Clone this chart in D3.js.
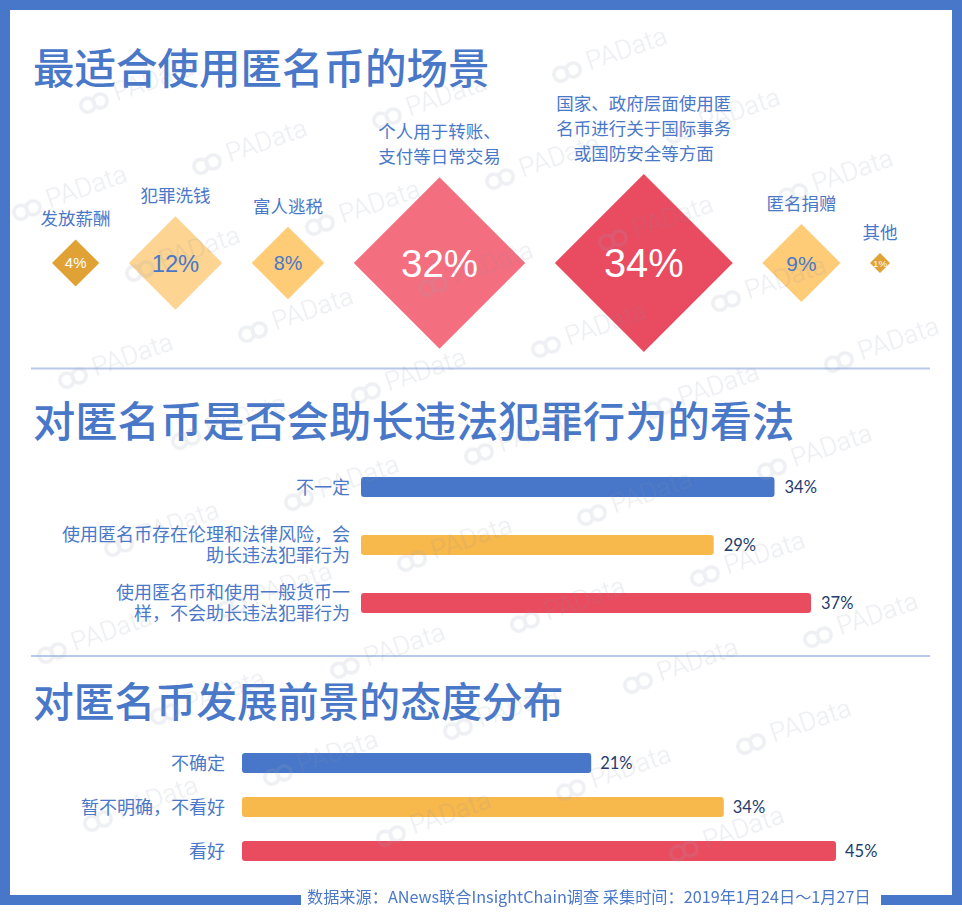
<!DOCTYPE html>
<html>
<head>
<meta charset="utf-8">
<script src="https://cdn.jsdelivr.net/npm/d3@7"></script>
<style>
  html, body { margin: 0; padding: 0; background: #ffffff; }
  svg { display: block; }
</style>
</head>
<body>
<div id="chart"></div>
<script>
// ---------------- DATA ----------------
const titles = ["最适合使用匿名币的场景", "对匿名币是否会助长违法犯罪行为的看法", "对匿名币发展前景的态度分布"];

const scenarioLabels = [
  ["发放薪酬"],
  ["犯罪洗钱"],
  ["富人逃税"],
  ["个人用于转账、", "支付等日常交易"],
  ["国家、政府层面使用匿", "名币进行关于国际事务", "或国防安全等方面"],
  ["匿名捐赠"],
  ["其他"]
];
const scenarioValues = [4, 12, 8, 32, 34, 9, 1];

const viewLabels = [
  ["不一定"],
  ["使用匿名币存在伦理和法律风险，会", "助长违法犯罪行为"],
  ["使用匿名币和使用一般货币一", "样，不会助长违法犯罪行为"]
];
const viewValues = [34, 29, 37];

const outlookLabels = ["不确定", "暂不明确，不看好", "看好"];
const outlookValues = [21, 34, 45];

const footerText = "数据来源：ANews联合InsightChain调查  采集时间：2019年1月24日～1月27日";
const watermarkText = "PAData";

// ---------------- STYLE ----------------
const BLUE = "#4876c9";
const TITLE_BLUE = "#4a78c9";
const NAVY = "#243b6d";
const SEP = "#b8c9ea";
const diamondFill = ["#e0a135", "#fdd491", "#fecb77", "#f36e7f", "#e94b61", "#fecb77", "#e0a135"];
const diamondText = ["#ffffff", TITLE_BLUE, TITLE_BLUE, "#ffffff", "#ffffff", TITLE_BLUE, "#ffffff"];
const barColors = ["#4877c9", "#f7b84c", "#ea4c5f"];
const CJK = "'Noto Sans CJK SC', 'Noto Sans', sans-serif";
const NUM = "Lato, 'Noto Sans', sans-serif";

const W = 962, H = 916;
const svg = d3.select("#chart").append("svg").attr("width", W).attr("height", H);
svg.append("rect").attr("width", W).attr("height", H).attr("fill", "#fff");

// ---------------- TITLES ----------------
const titleY = [84, 437, 717];
const titleSize = [41.5, 42.3, 40.8];
svg.selectAll("text.title").data(titles).join("text")
  .attr("class", "title")
  .attr("x", 33).attr("y", (d, i) => titleY[i])
  .attr("font-family", CJK).attr("font-size", (d, i) => titleSize[i]).attr("font-weight", 500)
  .attr("fill", TITLE_BLUE).text(d => d);

// separators
svg.selectAll("line.sep").data([368.5, 656]).join("line")
  .attr("x1", 31).attr("x2", 930).attr("y1", d => d).attr("y2", d => d)
  .attr("stroke", SEP).attr("stroke-width", 2);

// ---------------- DIAMONDS ----------------
const sizeScale = d3.scalePow().exponent(0.62).domain([0, d3.max(scenarioValues)]).range([0, 89]);
const halfs = scenarioValues.map(v => sizeScale(v));
const left = 52, right = 890, cy = 263;
const gap = (right - left - 2 * d3.sum(halfs)) / (halfs.length - 1);
let cursor = left;
const centers = halfs.map(h => { const c = cursor + h; cursor += 2 * h + gap; return c; });

const dg = svg.append("g");
const items = dg.selectAll("g.item").data(scenarioValues).join("g")
  .attr("class", "item")
  .attr("transform", (d, i) => `translate(${centers[i]},${cy})`);

items.append("path")
  .attr("d", (d, i) => d3.symbol(d3.symbolSquare, 2 * halfs[i] * halfs[i])())
  .attr("transform", "rotate(45)")
  .attr("fill", (d, i) => diamondFill[i]);

items.append("text")
  .attr("text-anchor", "middle")
  .attr("y", (d, i) => (0.38 * halfs[i] + 6) * 0.36)
  .attr("font-family", "'Liberation Sans', Arial, sans-serif")
  .attr("font-size", (d, i) => 0.38 * halfs[i] + 6)
  .attr("fill", (d, i) => diamondText[i])
  .text(d => d + "%");

items.each(function (d, i) {
  const lines = scenarioLabels[i];
  const top = -halfs[i] - 14;
  d3.select(this).selectAll("text.lab").data(lines).join("text")
    .attr("class", "lab")
    .attr("text-anchor", "middle")
    .attr("y", (l, k) => top - (lines.length - 1 - k) * 25)
    .attr("font-family", CJK).attr("font-size", 17.5)
    .attr("fill", TITLE_BLUE).text(l => l);
});

// ---------------- BARS: section 2 ----------------
const x2 = d3.scaleLinear().domain([0, 37]).range([361, 811]);
const y2 = d3.scalePoint().domain(d3.range(viewValues.length)).range([487, 603]);
const BH = 20;
const g2 = svg.append("g");
g2.selectAll("rect").data(viewValues).join("rect")
  .attr("x", x2(0)).attr("y", (d, i) => y2(i) - BH / 2)
  .attr("width", d => x2(d) - x2(0)).attr("height", BH)
  .attr("rx", 3).attr("fill", (d, i) => barColors[i]);
g2.selectAll("text.val").data(viewValues).join("text")
  .attr("class", "val")
  .attr("x", d => x2(d) + 10).attr("y", (d, i) => y2(i) + 6)
  .attr("font-family", NUM).attr("font-size", 16.5).attr("fill", NAVY)
  .text(d => d + "%");
viewLabels.forEach((lines, i) => {
  const n = lines.length;
  g2.append("g").selectAll("text").data(lines).join("text")
    .attr("x", 350)
    .attr("y", (l, k) => y2(i) + 6.5 + (k - (n - 1) / 2) * 20.5)
    .attr("text-anchor", "end")
    .attr("font-family", CJK).attr("font-size", 18)
    .attr("fill", TITLE_BLUE).text(l => l);
});

// ---------------- BARS: section 3 ----------------
const x3start = 242;
const w3 = d3.scaleLinear().domain([0, 45]).range([135, 594]);
const y3 = d3.scalePoint().domain(d3.range(outlookValues.length)).range([763, 851]);
const g3 = svg.append("g");
g3.selectAll("rect").data(outlookValues).join("rect")
  .attr("x", x3start).attr("y", (d, i) => y3(i) - BH / 2)
  .attr("width", d => w3(d)).attr("height", BH)
  .attr("rx", 3).attr("fill", (d, i) => barColors[i]);
g3.selectAll("text.val").data(outlookValues).join("text")
  .attr("class", "val")
  .attr("x", d => x3start + w3(d) + 9).attr("y", (d, i) => y3(i) + 6)
  .attr("font-family", NUM).attr("font-size", 16.5).attr("fill", NAVY)
  .text(d => d + "%");
g3.selectAll("text.cat").data(outlookLabels).join("text")
  .attr("class", "cat")
  .attr("x", 225).attr("y", (d, i) => y3(i) + 6.5)
  .attr("text-anchor", "end")
  .attr("font-family", CJK).attr("font-size", 18)
  .attr("fill", TITLE_BLUE).text(d => d);

// ---------------- WATERMARK ----------------
const wm = svg.append("g").attr("opacity", 0.17).attr("pointer-events", "none");
const origin = [207, 164], v1 = [113, 61], v2 = [-67, 107];
const spots = [];
for (let a = -12; a <= 12; a++) {
  for (let b = -12; b <= 12; b++) {
    const px = origin[0] + a * v1[0] + b * v2[0];
    const py = origin[1] + a * v1[1] + b * v2[1];
    if (px - 16 >= 10 && px + 112 <= 952 && py - 56 >= 10 && py + 14 <= 895) spots.push([px, py]);
  }
}
const wmg = wm.selectAll("g").data(spots).join("g")
  .attr("transform", d => `translate(${d[0]},${d[1]}) rotate(-19)`);
wmg.append("circle").attr("cx", -6.5).attr("cy", 0).attr("r", 7)
  .attr("fill", "none").attr("stroke", "#9aa3b8").attr("stroke-width", 3.5);
wmg.append("circle").attr("cx", 6.5).attr("cy", 0).attr("r", 7)
  .attr("fill", "none").attr("stroke", "#9aa3b8").attr("stroke-width", 3.5);
wmg.append("text").attr("x", 22).attr("y", 6)
  .attr("font-family", "Roboto, 'Noto Sans', sans-serif").attr("font-weight", 300)
  .attr("font-size", 26).attr("fill", "#8a93aa").text(watermarkText);

// ---------------- FRAME ----------------
const frame = svg.append("g").attr("fill", BLUE);
frame.append("rect").attr("x", 0).attr("y", 0).attr("width", W).attr("height", 10);
frame.append("rect").attr("x", 0).attr("y", 0).attr("width", 10).attr("height", 905);
frame.append("rect").attr("x", 952).attr("y", 0).attr("width", 10).attr("height", 905);
frame.append("rect").attr("x", 0).attr("y", 895).attr("width", 301).attr("height", 10);
frame.append("rect").attr("x", 881).attr("y", 895).attr("width", 81).attr("height", 10);
svg.append("rect").attr("x", 0).attr("y", 905).attr("width", W).attr("height", H - 905).attr("fill", "#fff");

svg.append("text").attr("x", 307).attr("y", 902.5)
  .attr("font-family", CJK).attr("font-size", 16.2)
  .attr("fill", TITLE_BLUE).text(footerText);
</script>
</body>
</html>
